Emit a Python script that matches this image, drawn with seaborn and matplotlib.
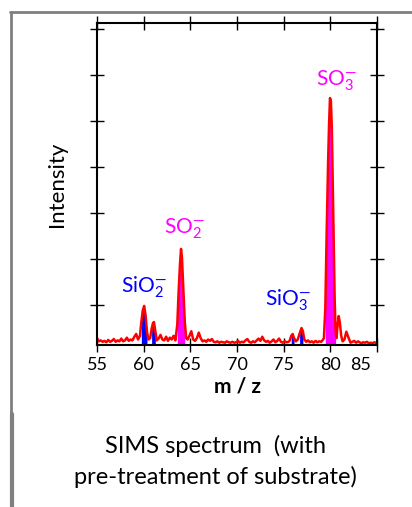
import numpy as np
import seaborn as sns
import matplotlib.pyplot as plt
from matplotlib.lines import Line2D
from matplotlib.transforms import ScaledTranslation

# spectrum (m/z, intensity in tick units)
mz = [55.0, 55.2, 55.4, 55.6, 55.8, 56.0, 56.2, 56.4, 56.6, 56.8, 57.0, 57.2,
      57.4, 57.6, 57.8, 58.0, 58.2, 58.4, 58.6, 58.8, 59.0, 59.2, 59.4,
      59.6, 59.75, 59.9, 60.05, 60.2, 60.35, 60.5,
      60.7, 60.85, 61.0, 61.1, 61.25, 61.4,
      61.6, 61.8, 62.0, 62.2, 62.4, 62.6, 62.8, 63.0, 63.2, 63.4,
      63.6, 63.75, 63.9, 64.0, 64.1, 64.25, 64.4, 64.55,
      64.7, 64.9, 65.1, 65.3, 65.5,
      65.7, 65.9, 66.1, 66.3, 66.5, 66.7, 66.9, 67.1, 67.3, 67.5, 67.7, 67.9,
      68.1, 68.3, 68.5, 68.7, 68.9, 69.1, 69.3, 69.5, 69.7, 69.9, 70.1, 70.3,
      70.5, 70.7, 70.9, 71.1, 71.3, 71.5, 71.7, 71.9, 72.1, 72.3, 72.5, 72.7,
      72.9, 73.1, 73.3, 73.5, 73.7, 73.9, 74.1, 74.3, 74.5, 74.7, 74.9, 75.1,
      75.3, 75.5, 75.65, 75.8, 75.95, 76.1, 76.3, 76.5, 76.7, 76.9, 77.05,
      77.2, 77.4, 77.6, 77.8, 78.0, 78.2, 78.4, 78.6, 78.8, 79.0, 79.15,
      79.3, 79.45, 79.6, 79.75, 79.85, 79.95, 80.05, 80.15, 80.25, 80.35,
      80.45, 80.55, 80.65,
      80.75, 80.88, 81.0, 81.15, 81.3, 81.5, 81.7, 81.95,
      82.15, 82.35, 82.55, 82.75, 82.95, 83.1, 83.3, 83.5, 83.7, 83.9, 84.1,
      84.3, 84.5, 84.7, 84.9, 85.0]
intensity = [0.15, 0.08, 0.10, 0.07, 0.09, 0.06, 0.11, 0.07, 0.09, 0.13, 0.07, 0.10,
             0.08, 0.14, 0.08, 0.10, 0.16, 0.09, 0.12, 0.10, 0.18, 0.24, 0.12,
             0.20, 0.50, 0.75, 0.85, 0.65, 0.30, 0.12,
             0.15, 0.35, 0.48, 0.50, 0.30, 0.10,
             0.14, 0.22, 0.12, 0.10, 0.18, 0.09, 0.16, 0.12, 0.20, 0.10,
             0.45, 1.20, 1.80, 2.09, 1.90, 1.20, 0.50, 0.15,
             0.12, 0.20, 0.30, 0.12, 0.09,
             0.15, 0.27, 0.15, 0.08, 0.10, 0.07, 0.12, 0.09, 0.13, 0.07, 0.06, 0.08,
             0.05, 0.07, 0.06, 0.05, 0.08, 0.06, 0.05, 0.07, 0.05, 0.06, 0.09, 0.05,
             0.07, 0.06, 0.10, 0.13, 0.07, 0.05, 0.08, 0.06, 0.10, 0.14, 0.09, 0.18,
             0.10, 0.07, 0.09, 0.05, 0.08, 0.12, 0.06, 0.09, 0.14, 0.07, 0.05, 0.08,
             0.06, 0.07, 0.10, 0.20, 0.24, 0.15, 0.08, 0.12, 0.25, 0.37, 0.30,
             0.12, 0.07, 0.10, 0.06, 0.08, 0.05, 0.09, 0.06, 0.08, 0.07, 0.10,
             0.15, 0.80, 2.50, 4.00, 4.80, 5.37, 5.30, 4.70, 3.50, 2.30,
             1.00, 0.30, 0.15,
             0.40, 0.63, 0.50, 0.20, 0.08, 0.12, 0.29, 0.15,
             0.05, 0.07, 0.09, 0.05, 0.08, 0.06, 0.04, 0.06, 0.05, 0.07, 0.04,
             0.05, 0.04, 0.06, 0.04, 0.05]

# filled peak windows
blue_windows = [(59.75, 60.35), (60.85, 61.25), (75.8, 76.1), (76.7, 77.05)]
pink_windows = [(63.6, 64.4), (79.45, 80.55)]

peak_labels = [("SiO", "2", 60.0, 1.25, "blue"),
               ("SO", "2", 64.4, 2.52, "magenta"),
               ("SiO", "3", 75.4, 0.98, "blue"),
               ("SO", "3", 80.6, 5.75, "magenta")]

sns.set_style("ticks")
plt.rcParams["font.family"] = ["Lato", "DejaVu Sans"]
plt.rcParams["mathtext.fontset"] = "custom"
plt.rcParams["mathtext.rm"] = "Lato"
plt.rcParams["mathtext.it"] = "Lato"
plt.rcParams["text.color"] = "black"
plt.rcParams["axes.labelcolor"] = "black"
plt.rcParams["xtick.color"] = "black"
plt.rcParams["ytick.color"] = "black"

fig = plt.figure(figsize=(4.12, 5.07), dpi=100)
ax = fig.add_axes([0.2354, 0.3195, 0.680, 0.635])

x = np.array(mz)
y = np.array(intensity)
for lo, hi in blue_windows:
    m = (x >= lo) & (x <= hi)
    ax.fill_between(x, 0, y, where=m, color="blue", lw=0)
for lo, hi in pink_windows:
    m = (x >= lo) & (x <= hi)
    ax.fill_between(x, 0, y, where=m, color="magenta", lw=0)
sns.lineplot(x=mz, y=intensity, color="red", lw=1.8, ax=ax)

for base, sub, px, py, col in peak_labels:
    ax.text(px, py, base + "$_{" + sub + "}^{\u2014}$", color=col,
            fontsize=15, ha="center", va="center")

ax.set_xlim(55, 85)
ax.set_ylim(0, 7.0)
ax.set_xticks([55, 60, 65, 70, 75, 80, 85])
ax.set_yticks(np.arange(0.87, 7.0, 1.0))
ax.set_yticklabels([])
ax.tick_params(direction="inout", length=10, width=1, top=True, right=True,
               labelsize=13)
for s in ax.spines.values():
    s.set_visible(True)
    s.set_linewidth(1.5)
    s.set_color("black")
lbl = ax.get_xticklabels()[-1]
lbl.set_transform(lbl.get_transform() + ScaledTranslation(-0.17, 0, fig.dpi_scale_trans))

ax.set_xlabel("m / z", fontsize=15, fontweight="bold", labelpad=3)
ax.set_ylabel("Intensity", fontsize=16, labelpad=13)

fig.text(0.522, 0.09, "SIMS spectrum  (with\npre-treatment of substrate)",
         ha="center", va="center", fontsize=17, linespacing=1.5)

# grey frame
g = "#808080"
fig.add_artist(Line2D([10 / 412, 1], [1 - 12 / 507] * 2, color=g, lw=2))
fig.add_artist(Line2D([11 / 412] * 2, [1 - 12 / 507, 1 - 414 / 507], color=g, lw=2))
fig.add_artist(Line2D([12 / 412] * 2, [1 - 414 / 507, 0], color=g, lw=3))

fig.savefig("out.png", dpi=100)
